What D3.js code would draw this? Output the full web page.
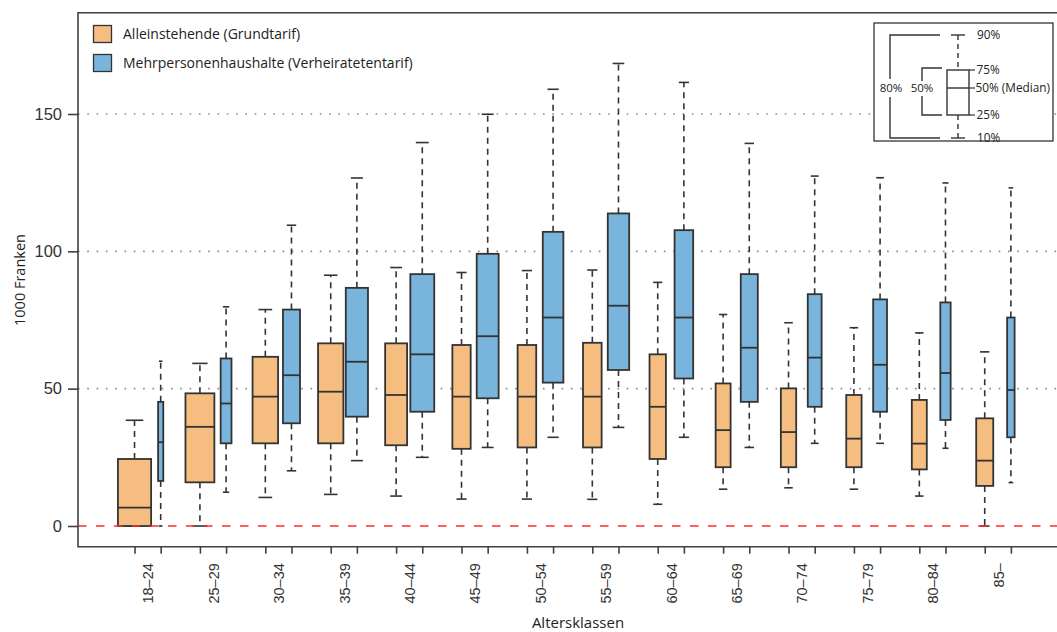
<!DOCTYPE html>
<html>
<head>
<meta charset="utf-8">
<script src="https://cdn.jsdelivr.net/npm/d3@7/dist/d3.min.js"></script>
<style>
  html, body { margin: 0; padding: 0; background: #fff; }
  svg { display: block; }
</style>
</head>
<body>
<svg id="chart" width="1057" height="632"></svg>
<script>
// ---------------- DATA ----------------
const categories = ["18–24","25–29","30–34","35–39","40–44","45–49","50–54","55–59","60–64","65–69","70–74","75–79","80–84","85–"];

// Alleinstehende (Grundtarif), 1000 Franken
const singleP10 = [0, 0, 10.4, 11.5, 10.9, 9.8, 9.8, 9.7, 7.9, 13.4, 13.9, 13.4, 10.9, 0];
const singleP25 = [0, 15.9, 30.1, 30.1, 29.4, 28.1, 28.6, 28.6, 24.4, 21.4, 21.4, 21.4, 20.6, 14.6];
const singleP50 = [6.7, 36.1, 47.1, 48.9, 47.7, 47.1, 47.1, 47.1, 43.4, 34.9, 34.2, 31.8, 30.0, 23.8];
const singleP75 = [24.4, 48.3, 61.6, 66.5, 66.5, 65.9, 65.9, 66.7, 62.5, 51.9, 50.1, 47.7, 45.9, 39.2];
const singleP90 = [38.5, 59.2, 78.8, 91.3, 94.1, 92.3, 93.0, 93.2, 88.7, 77.0, 74.0, 72.2, 70.3, 63.4];
// relative group size (box width ~ sqrt)
const singleN   = [1.0, 0.77, 0.61, 0.60, 0.46, 0.33, 0.34, 0.34, 0.27, 0.23, 0.24, 0.24, 0.23, 0.29];

// Mehrpersonenhaushalte (Verheiratetentarif), 1000 Franken
const multiP10 = [0, 12.3, 20.1, 23.8, 25.0, 28.6, 32.3, 35.9, 32.3, 28.6, 30.1, 30.1, 28.3, 15.8];
const multiP25 = [16.4, 30.1, 37.4, 39.8, 41.6, 46.5, 52.2, 56.8, 53.7, 45.2, 43.4, 41.6, 38.6, 32.3];
const multiP50 = [30.5, 44.6, 54.9, 59.8, 62.5, 69.1, 75.9, 80.2, 75.9, 64.9, 61.3, 58.7, 55.7, 49.5];
const multiP75 = [45.2, 61.0, 78.8, 86.7, 91.7, 99.1, 107.1, 113.8, 107.7, 91.7, 84.4, 82.5, 81.4, 75.9];
const multiP90 = [60.0, 79.8, 109.5, 126.7, 139.6, 149.9, 159.0, 168.4, 161.5, 139.3, 127.4, 126.8, 124.9, 123.1];
const multiN   = [0.04, 0.13, 0.29, 0.47, 0.54, 0.46, 0.41, 0.44, 0.34, 0.29, 0.20, 0.20, 0.12, 0.07];

const yTicks = [0, 50, 100, 150];
const gridValues = [50, 100, 150];
const seriesNames = ["Alleinstehende (Grundtarif)", "Mehrpersonenhaushalte (Verheiratetentarif)"];

// ---------------- LAYOUT ----------------
const W = 1057, H = 632;
const frameLeft = 78, frameTop = 12.7, frameBottom = 546.7, frameRight = 1080;
const colors = ["#f6bd80", "#78b4dc"];
const stroke = "#333";
const offset = 0.2;
const sansFont = "'Open Sans', Lato, sans-serif";
const axisFont = "'Liberation Sans', Arial, sans-serif";

const svg = d3.select("#chart");

const x = d3.scaleLinear().domain([0, 13]).range([147.6, 997.8]);
const y = d3.scaleLinear().domain([0, 150]).range([526, 114]);
const wScale = d3.scaleSqrt().domain([0, 1]).range([0, 35]);

// grid lines
svg.append("g").selectAll("line").data(gridValues).join("line")
  .attr("x1", frameLeft).attr("x2", W)
  .attr("y1", d => y(d)).attr("y2", d => y(d))
  .attr("stroke", "#8a8a8a").attr("stroke-width", 1.6)
  .attr("stroke-dasharray", "1.6,7.7");

// build boxes
const series = [
  {p10: singleP10, p25: singleP25, p50: singleP50, p75: singleP75, p90: singleP90, n: singleN, off: -offset, color: colors[0]},
  {p10: multiP10, p25: multiP25, p50: multiP50, p75: multiP75, p90: multiP90, n: multiN, off: offset, color: colors[1]}
];
const boxes = [];
series.forEach(s => {
  categories.forEach((c, i) => {
    boxes.push({i, pos: i + s.off, p10: s.p10[i], p25: s.p25[i], p50: s.p50[i], p75: s.p75[i], p90: s.p90[i], w: wScale(s.n[i]), color: s.color});
  });
});

const bg = svg.append("g");
const b = bg.selectAll("g.box").data(boxes).join("g").attr("class", "box");
// whiskers
b.append("line")
  .attr("x1", d => x(d.pos)).attr("x2", d => x(d.pos))
  .attr("y1", d => y(d.p75)).attr("y2", d => y(d.p90))
  .attr("stroke", stroke).attr("stroke-width", 1.6).attr("stroke-dasharray", "6,5");
b.append("line")
  .attr("x1", d => x(d.pos)).attr("x2", d => x(d.pos))
  .attr("y1", d => y(d.p25)).attr("y2", d => y(d.p10))
  .attr("stroke", stroke).attr("stroke-width", 1.6).attr("stroke-dasharray", "6,5");
// caps
[ "p90", "p10" ].forEach(k => {
  b.append("line")
    .attr("x1", d => x(d.pos) - d.w / 4).attr("x2", d => x(d.pos) + d.w / 4)
    .attr("y1", d => y(d[k])).attr("y2", d => y(d[k]))
    .attr("stroke", stroke).attr("stroke-width", 1.6);
});
// box
b.append("rect")
  .attr("x", d => x(d.pos) - d.w / 2 + 0.9).attr("width", d => Math.max(d.w - 1.8, 1))
  .attr("y", d => y(d.p75)).attr("height", d => y(d.p25) - y(d.p75))
  .attr("fill", d => d.color).attr("stroke", stroke).attr("stroke-width", 1.8);
// median
b.append("line")
  .attr("x1", d => x(d.pos) - d.w / 2 + 0.9).attr("x2", d => x(d.pos) + d.w / 2 - 0.9)
  .attr("y1", d => y(d.p50)).attr("y2", d => y(d.p50))
  .attr("stroke", stroke).attr("stroke-width", 1.8);

// zero line (red dashed)
svg.append("line")
  .attr("x1", frameLeft).attr("x2", W)
  .attr("y1", y(0)).attr("y2", y(0))
  .attr("stroke", "#ff2a2a").attr("stroke-width", 1.6)
  .attr("stroke-dasharray", "8.5,9.5");

// frame (left, top, bottom; right side is outside the picture)
svg.append("path")
  .attr("d", `M${frameRight},${frameTop}H${frameLeft}V${frameBottom}H${frameRight}`)
  .attr("fill", "none").attr("stroke", "#404040").attr("stroke-width", 1.6);

// y axis
const yAxis = svg.append("g").attr("transform", `translate(${frameLeft},0)`)
  .call(d3.axisLeft(y).tickValues(yTicks).tickSize(10).tickPadding(6));
yAxis.select(".domain").remove();
yAxis.selectAll("line").attr("stroke", "#404040").attr("stroke-width", 1.6);
yAxis.selectAll("text").attr("font-family", axisFont).attr("font-size", 16.5).attr("fill", "#333");

// x axis ticks (one per box)
const tickPositions = [];
categories.forEach((c, i) => { tickPositions.push(i - offset, i + offset); });
const xTickAxis = svg.append("g").attr("transform", `translate(0,${frameBottom})`)
  .call(d3.axisBottom(x).tickValues(tickPositions).tickSize(7).tickFormat(""));
xTickAxis.select(".domain").remove();
xTickAxis.selectAll("line").attr("stroke", "#404040").attr("stroke-width", 1.6);

// x axis labels (one per age class)
const xLabAxis = svg.append("g").attr("transform", `translate(0,${frameBottom})`)
  .call(d3.axisBottom(x).tickValues(d3.range(categories.length)).tickSize(0).tickFormat(i => categories[i]));
xLabAxis.select(".domain").remove();
xLabAxis.selectAll("text")
  .attr("transform", "rotate(-90)")
  .attr("x", -16.5).attr("y", 0).attr("dy", "0.36em")
  .style("text-anchor", "end")
  .attr("font-family", axisFont).attr("font-size", 14.5).attr("fill", "#333");

// axis titles
svg.append("text").attr("x", 578).attr("y", 627.5)
  .attr("text-anchor", "middle").attr("font-family", sansFont).attr("font-size", 15).attr("fill", "#222")
  .text("Altersklassen");
svg.append("text").attr("transform", `translate(24.5,280) rotate(-90)`)
  .attr("text-anchor", "middle").attr("font-family", sansFont).attr("font-size", 14.5).attr("fill", "#222")
  .text("1000 Franken");

// top-left legend
const lg = svg.append("g");
const lgItems = lg.selectAll("g").data(seriesNames).join("g")
  .attr("transform", (d, i) => `translate(93.5,${25.5 + i * 29})`);
lgItems.append("rect").attr("width", 18).attr("height", 17)
  .attr("fill", (d, i) => colors[i]).attr("stroke", stroke).attr("stroke-width", 1.3);
lgItems.append("text").attr("x", 29.5).attr("y", 8.5).attr("dy", "0.35em")
  .attr("font-family", sansFont).attr("font-size", 14).attr("fill", "#222")
  .text(d => d);

// explanatory inset legend
const ig = svg.append("g");
ig.append("rect").attr("x", 874).attr("y", 23).attr("width", 179).attr("height", 118)
  .attr("fill", "#fff").attr("stroke", stroke).attr("stroke-width", 1.3);
const cx = 958, yy = {p90: 35, p75: 70, p50: 88, p25: 115, p10: 138};
ig.append("line").attr("x1", cx).attr("x2", cx).attr("y1", yy.p90).attr("y2", yy.p75)
  .attr("stroke", stroke).attr("stroke-width", 1.4).attr("stroke-dasharray", "5,4");
ig.append("line").attr("x1", cx).attr("x2", cx).attr("y1", yy.p25).attr("y2", yy.p10)
  .attr("stroke", stroke).attr("stroke-width", 1.4).attr("stroke-dasharray", "5,4");
ig.append("line").attr("x1", cx - 7).attr("x2", cx + 7).attr("y1", yy.p90).attr("y2", yy.p90).attr("stroke", stroke).attr("stroke-width", 1.4);
ig.append("line").attr("x1", cx - 7).attr("x2", cx + 7).attr("y1", yy.p10).attr("y2", yy.p10).attr("stroke", stroke).attr("stroke-width", 1.4);
ig.append("rect").attr("x", 947).attr("y", yy.p75).attr("width", 22).attr("height", yy.p25 - yy.p75)
  .attr("fill", "#fff").attr("stroke", stroke).attr("stroke-width", 1.4);
ig.append("line").attr("x1", 947).attr("x2", 969).attr("y1", yy.p50).attr("y2", yy.p50).attr("stroke", stroke).attr("stroke-width", 1.4);
[yy.p75, yy.p50, yy.p25].forEach(v => {
  ig.append("line").attr("x1", 969).attr("x2", 975).attr("y1", v).attr("y2", v).attr("stroke", stroke).attr("stroke-width", 1.2);
});
ig.append("path").attr("d", "M940,35H890V79M890,97V138H940").attr("fill", "none").attr("stroke", stroke).attr("stroke-width", 1.4);
ig.append("path").attr("d", "M942,68H922V81M922,96V115H942").attr("fill", "none").attr("stroke", stroke).attr("stroke-width", 1.4);
const insetLabels = [["90%", yy.p90, 977], ["75%", yy.p75, 976.5], ["50% (Median)", yy.p50, 975.5], ["25%", yy.p25, 976.5], ["10%", yy.p10, 977]];
ig.selectAll("text.lab").data(insetLabels).join("text").attr("class", "lab")
  .attr("x", d => d[2]).attr("y", d => d[1]).attr("dy", "0.35em")
  .attr("font-family", sansFont).attr("font-size", 11.8).attr("fill", "#222")
  .text(d => d[0]);
ig.append("text").attr("x", 891).attr("y", 88).attr("dy", "0.35em").attr("text-anchor", "middle")
  .attr("font-family", sansFont).attr("font-size", 11.5).attr("fill", "#222").text("80%");
ig.append("text").attr("x", 922).attr("y", 88).attr("dy", "0.35em").attr("text-anchor", "middle")
  .attr("font-family", sansFont).attr("font-size", 11.5).attr("fill", "#222").text("50%");
</script>
</body>
</html>
